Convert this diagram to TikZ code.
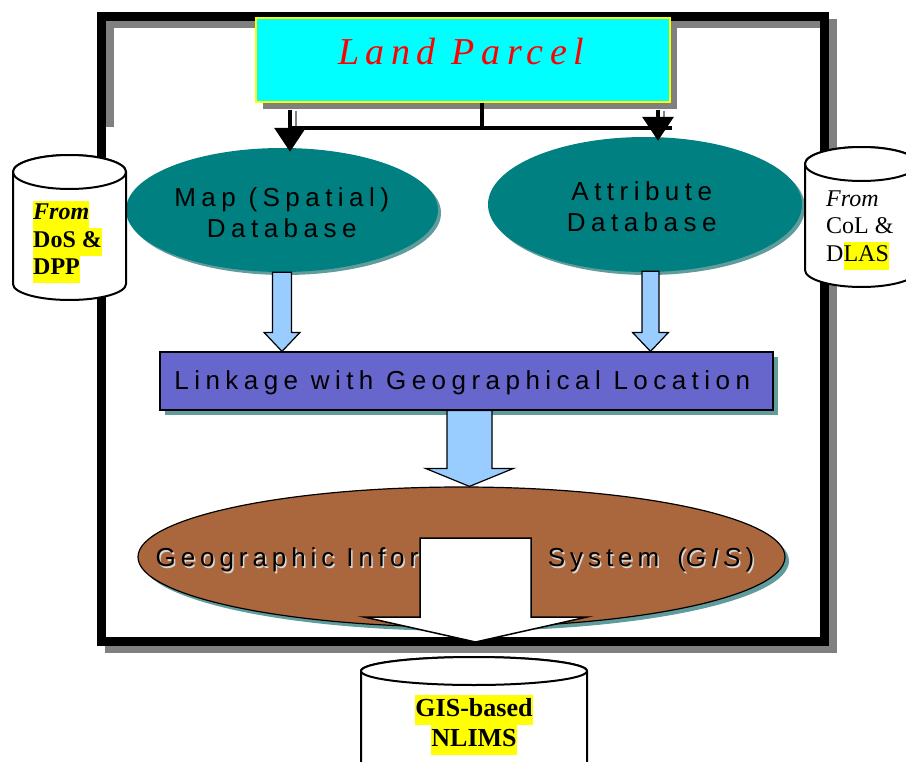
\documentclass[tikz,border=0pt]{standalone}
\usepackage{fontspec}
\setmainfont{Liberation Serif}
\newfontfamily\lblfont[LetterSpace=21]{Liberation Sans}
\newfontfamily\gisfont[LetterSpace=19]{Liberation Sans}
\newfontfamily\titlefont[LetterSpace=17]{Liberation Serif}
\usetikzlibrary{shapes.geometric,arrows.meta,calc,shadows}

\definecolor{boxcyan}{RGB}{0,255,255}
\definecolor{boxyellow}{RGB}{255,255,0}
\definecolor{dbteal}{RGB}{0,128,128}
\definecolor{tealshadow}{RGB}{96,156,156}
\definecolor{linkblue}{RGB}{102,102,204}
\definecolor{arrowblue}{RGB}{153,204,255}
\definecolor{gisbrown}{RGB}{170,102,60}
\definecolor{framegray}{RGB}{128,128,128}
\definecolor{textshade}{RGB}{215,215,215}
\definecolor{hlyellow}{RGB}{255,255,0}

% yellow text highlight, one line high
\newcommand\hlt[1]{{\setlength{\fboxsep}{0pt}\colorbox{hlyellow}{\strut#1}}}
% cancels the tracking added after the last letter of a line
\newcommand\trk{\kern-0.21em}
% GIS label with its own word spacing
\newcommand\gislabel{Geographic\hspace{12bp}Information\hspace{22bp}System\hspace{18bp}(\textit{GIS})}

% block arrow from #2 to #3: #4 half shaft width, #5 half head width, #6 head length
\newcommand\blockarrow[6]{%
  \draw[#1] let \p1=(#2), \p2=(#3) in
    (\x1-#4,\y1) -- (\x1-#4,\y2+#6) -- (\x1-#5,\y2+#6) -- (\x2,\y2)
    -- (\x1+#5,\y2+#6) -- (\x1+#4,\y2+#6) -- (\x1+#4,\y1) -- cycle;}

\tikzset{
  lpbox/.style={draw=boxyellow, line width=2bp, fill=boxcyan, inner sep=0pt,
    minimum width=414bp, minimum height=83bp,
    drop shadow={shadow xshift=7bp, shadow yshift=-7bp, fill=framegray, opacity=1}},
  lblfnt/.style={inner sep=0pt, align=center, font=\lblfont\fontsize{26bp}{31bp}\selectfont},
  gisfnt/.style={inner sep=0pt, anchor=west, font=\gisfont\fontsize{26bp}{31bp}\selectfont},
  dbell/.style={ellipse, fill=dbteal, inner sep=0pt,
    drop shadow={shadow xshift=3bp, shadow yshift=-3bp, fill=tealshadow, opacity=1}},
  linkbox/.style={draw=black, line width=1.2bp, fill=linkblue, inner sep=0pt,
    minimum width=613bp, minimum height=58bp,
    drop shadow={shadow xshift=5bp, shadow yshift=-5bp, fill=tealshadow, opacity=1}},
  gisell/.style={ellipse, draw=black, line width=1.2bp, fill=gisbrown, inner sep=0pt,
    minimum width=647bp, minimum height=140bp,
    drop shadow={shadow xshift=4bp, shadow yshift=-4bp, fill=tealshadow, opacity=1}},
  conn/.style={line width=3.2bp, black},
  connshadow/.style={line width=1.5bp, framegray},
  tri/.style={-{Triangle[width=31bp,length=24bp]}},
  barrow/.style={fill=arrowblue, draw=black, line width=1.2bp},
  warrow/.style={fill=white, draw=black, line width=1.5bp},
  cyl/.style={fill=white, draw=black, line width=2bp},
  cyltext/.style={inner sep=0pt, align=left, font=\fontsize{24bp}{27.5bp}\selectfont},
}

\begin{document}
\begin{tikzpicture}[x=1bp, y=-1bp]
\useasboundingbox (0,0) rectangle (906,762);
\clip (0,0) rectangle (906,762);

% outer frame with its shadow
\draw[framegray, line width=9bp] (109,23.5) rectangle (832,648.5);
\fill[white] (105.5,127) rectangle (119,637);
\draw[black, line width=9bp] (101,16.5) rectangle (824,641.5);

% junction points of the connectors below the title box
\coordinate (bar) at (482,128);
\coordinate (jl) at (290,128);
\coordinate (jr) at (658,128);
\coordinate (barend) at (670,128);

% title box
\node[lpbox] (lp) at (463,60) {};
\node[anchor=base, inner sep=0pt, text=red,
      font=\titlefont\itshape\fontsize{38bp}{40bp}\selectfont] (lptext) at (458,65) {Land Parcel\kern-0.17em};

% the two databases
\node[dbell, minimum width=312bp, minimum height=124bp] (mapdb) at (282,210) {};
\node[lblfnt] (maptext) at ($(mapdb.center)+(-3,3)$) {Map (Spatial)\trk\\Database\trk};
\node[dbell, minimum width=314bp, minimum height=135bp] (attdb) at (645,204.5) {};
\node[lblfnt] (atttext) at ($(attdb.center)+(-6,2)$) {Attribute\trk\\Database\trk};

\draw[connshadow] ($(lp.south -| jl)+(6,8)$) -- ($(jl)+(6,0)$);
\draw[connshadow] ($(lp.south -| jr)+(6,8)$) -- ($(jr)+(6,0)$);
\draw[conn] (lp.south -| bar) -- (bar);
\draw[conn] ($(lp.south -| jl)+(0,7)$) -- (jl);
\draw[conn] ($(lp.south -| jr)+(0,7)$) -- (jr);
\draw[conn, line cap=rect] (jl) -- (barend);
\draw[conn, tri, shorten >=-4bp] (jl) -- (mapdb.north -| jl);
\draw[conn, tri, shorten >=-4bp] (jr) -- (attdb.north -| jr);

% linkage box
\node[linkbox] (link) at (466.5,381) {};
\node[lblfnt] (linktext) at ($(link.center)+(-7,2)$) {Linkage with Geographical Location\trk};

% arrows into the linkage box
\blockarrow{barrow}{mapdb.south}{mapdb.south |- link.north}{9.5bp}{18bp}{19bp}
\coordinate (attout) at ($(attdb.south)+(5.5,-1)$);
\blockarrow{barrow}{attout}{attout |- link.north}{8.5bp}{18bp}{19bp}

% GIS ellipse, its label with a light text shadow
\node[gisell] (gis) at (461.5,557) {};
\node[gisfnt, text=textshade] (gisshade) at ($(gis.west)+(19.5,4.5)$) {\gislabel};
\node[gisfnt] (gistext) at ($(gis.west)+(18,3)$) {\gislabel};

% arrow from the linkage box to the GIS
\coordinate (linkout) at ($(link.south)+(3,0)$);
\blockarrow{barrow}{linkout}{linkout |- gis.north}{22.5bp}{44bp}{18bp}

% output arrow from the GIS
\coordinate (wtop) at (475.5,538);
\coordinate (wtip) at (475.5,642);
\blockarrow{warrow}{wtop}{wtip}{55.5bp}{111.5bp}{25bp}

% source cylinder, left
\draw[cyl] (13,172) -- (13,284) arc[start angle=180, end angle=0, x radius=56.5, y radius=16]
  -- (126,172) arc[start angle=0, end angle=-180, x radius=56.5, y radius=17] -- cycle;
\draw[cyl] (69.5,172) ellipse[x radius=56.5, y radius=17];
\node[cyltext, anchor=north west] (srcl) at (33,200.5)
  {\hlt{\textbf{\textit{From}}}\\\hlt{\textbf{DoS \&}}\\\hlt{\textbf{DPP}}};

% source cylinder, right
\draw[cyl] (805,164) -- (805,270) arc[start angle=180, end angle=0, x radius=56.5, y radius=17]
  -- (918,164) arc[start angle=0, end angle=-180, x radius=56.5, y radius=17] -- cycle;
\draw[cyl] (861.5,164) ellipse[x radius=56.5, y radius=17];
\node[cyltext, anchor=north west] (srcr) at (826,190.5)
  {\textit{From}\\CoL \&\\D\hlt{LAS}};

% result cylinder
\draw[cyl] (361,671) -- (361,800) -- (587,800) -- (587,671)
  arc[start angle=0, end angle=-180, x radius=113, y radius=14] -- cycle;
\draw[cyl] (474,671) ellipse[x radius=113, y radius=14];
\node[inner sep=0pt, align=center, anchor=north,
      font=\bfseries\fontsize{26bp}{30bp}\selectfont] (nlims) at (474,695)
  {\hlt{GIS-based}\\\hlt{NLIMS}};
\end{tikzpicture}
\end{document}
